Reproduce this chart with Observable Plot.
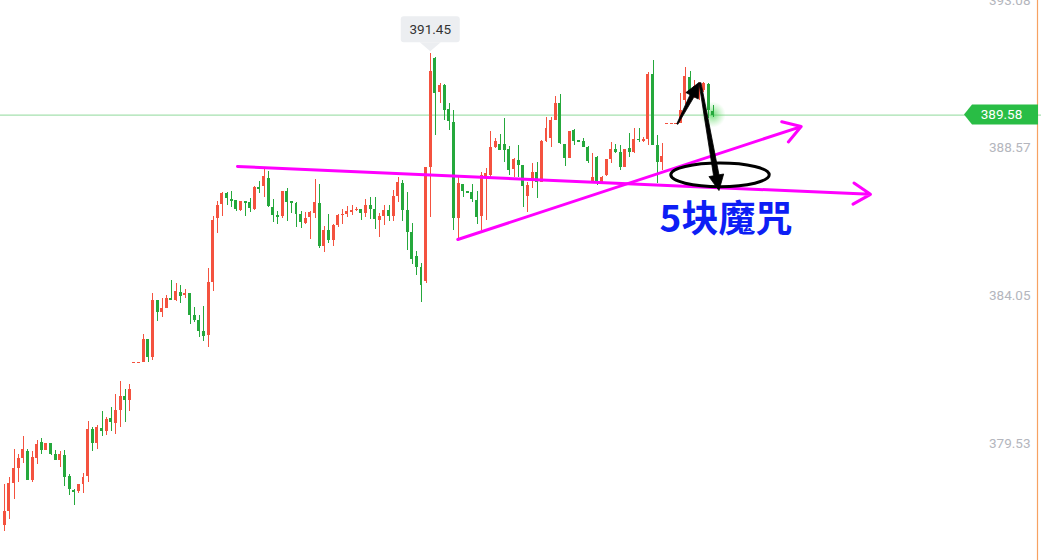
<!DOCTYPE html>
<html>
<head>
<meta charset="utf-8">
<script src="https://cdn.jsdelivr.net/npm/d3@7"></script>
<script src="https://cdn.jsdelivr.net/npm/@observablehq/plot@0.6"></script>
<style>
  html, body { margin: 0; padding: 0; background: #fff; overflow: hidden; }
  #chart svg { display: block; }
</style>
</head>
<body>
<div id="chart"></div>
<script>
// ---- Candle data (one entry per bar, left to right) ----
const opens = [
  377.05,377.47,378.33,378.79,379.09,379.31,378.42,379.09,379.58,379.34,
  379.55,379.22,379.03,379.19,378.55,378.11,378.08,378.30,378.55,379.98,
  379.55,380.01,379.92,380.31,380.16,380.56,380.99,380.86,382.02,382.02,
  382.02,382.73,382.18,383.92,383.55,383.67,383.98,383.92,384.16,384.07,
  384.13,383.46,383.31,382.97,382.85,384.47,386.42,386.85,387.19,387.00,
  386.97,386.67,386.94,386.91,386.70,387.37,387.40,387.64,386.76,386.51,
  386.48,387.25,386.94,386.88,386.54,386.27,386.45,386.58,386.88,385.57,
  386.06,385.75,386.21,386.51,386.54,386.61,386.67,386.70,386.58,386.82,
  386.70,386.36,386.48,386.67,386.48,387.09,387.49,386.67,385.99,385.26,
  384.93,384.50,387.98,391.31,390.27,390.48,389.75,389.35,386.42,387.46,
  387.25,387.22,386.97,386.48,387.67,387.74,388.59,388.68,388.68,388.53,
  387.92,388.19,388.04,387.09,387.61,387.83,387.52,388.77,388.87,389.42,
  389.93,388.68,388.25,389.11,388.80,388.77,388.59,387.55,388.28,387.52,
  387.74,388.22,388.53,388.44,387.98,388.56,388.44,388.84,388.77,388.84,
  390.82,388.65,388.13,389.32,389.32,389.32,389.32,390.03,390.73,390.15,
  390.09,390.33,390.51,389.69
];
const highs = [
  378.30,378.52,379.37,379.22,379.77,379.37,379.31,379.64,379.70,379.55,
  379.55,379.34,379.31,379.34,378.61,378.15,378.30,378.64,380.22,380.04,
  380.10,380.53,380.34,380.65,381.05,381.44,381.20,381.35,382.02,382.02,
  382.88,382.73,384.13,383.92,383.98,384.07,384.53,384.44,384.38,384.25,
  384.13,383.70,383.46,383.73,384.90,386.48,386.94,387.22,387.22,387.25,
  386.97,386.94,386.94,387.03,387.40,387.55,387.92,387.86,387.00,386.64,
  387.25,387.34,386.94,386.91,386.64,386.61,386.64,387.61,387.46,386.18,
  386.54,386.24,386.54,386.70,386.79,386.82,386.76,386.70,387.00,387.06,
  387.06,386.58,386.82,386.82,387.28,387.67,387.58,387.22,386.27,385.41,
  385.05,387.98,391.45,391.34,390.53,390.51,389.93,389.72,387.67,387.46,
  387.25,387.46,387.25,387.83,387.95,389.08,388.87,388.99,389.48,388.62,
  388.25,388.65,388.04,387.52,388.10,388.13,388.80,389.51,389.51,390.15,
  390.21,388.68,389.08,389.14,388.80,388.87,388.62,388.41,388.32,387.71,
  388.22,388.74,388.68,388.65,388.53,389.02,389.17,389.17,388.90,390.88,
  391.25,388.96,388.71,389.32,389.32,389.32,390.24,391.03,390.91,390.64,
  390.58,390.58,390.55,389.87
];
const lows = [
  376.86,377.23,377.84,378.36,378.94,378.42,378.36,378.91,379.22,379.34,
  379.19,379.03,378.82,378.24,377.96,377.66,378.02,378.02,378.36,379.31,
  379.37,379.77,379.80,379.92,379.83,380.04,380.19,380.53,382.02,382.02,
  382.02,382.02,382.09,383.28,383.40,383.67,383.92,383.89,383.83,383.98,
  383.19,383.25,382.79,382.67,382.48,384.19,385.96,386.48,386.82,386.76,
  386.64,386.64,386.48,386.61,386.67,387.19,387.06,386.76,386.30,386.24,
  386.42,386.33,386.58,386.15,386.12,386.24,385.78,386.42,385.51,385.38,
  385.66,385.57,386.15,386.24,386.45,386.51,386.64,386.36,386.45,386.39,
  386.09,385.84,386.21,386.33,386.33,386.91,386.33,385.45,385.02,384.68,
  383.86,384.44,386.45,388.96,389.93,389.42,389.11,386.06,385.78,387.06,
  387.22,386.91,386.24,386.06,386.36,387.67,388.56,388.50,388.13,387.74,
  387.67,387.67,386.76,386.61,387.34,387.03,387.52,388.74,388.59,389.42,
  388.68,388.01,388.25,388.65,388.77,388.59,388.10,387.52,387.43,387.49,
  387.71,388.10,388.41,387.89,387.98,388.28,388.41,388.74,388.74,388.65,
  388.65,387.49,387.89,389.32,389.32,389.32,389.32,389.90,390.15,390.09,
  390.03,390.27,389.48,389.51
];
const closes = [
  377.47,378.33,378.79,379.09,379.37,378.42,379.12,379.52,379.34,379.55,
  379.22,379.03,379.22,378.52,378.15,378.05,378.30,378.52,379.98,379.55,
  380.04,379.92,380.28,380.19,380.56,380.99,380.86,381.20,382.02,382.02,
  382.73,382.18,383.92,383.55,383.67,383.98,383.92,384.19,384.04,384.13,
  383.46,383.31,382.97,382.82,384.47,386.36,386.82,387.19,387.03,386.94,
  386.70,386.94,386.91,386.73,387.37,387.34,387.71,386.79,386.51,386.48,
  387.25,386.91,386.91,386.54,386.30,386.42,386.61,386.91,385.57,386.06,
  385.75,386.21,386.51,386.54,386.64,386.67,386.70,386.58,386.82,386.70,
  386.39,386.48,386.67,386.48,387.09,387.52,386.67,385.99,385.17,384.93,
  384.38,387.98,390.91,390.24,390.48,389.72,389.38,386.42,387.49,387.25,
  387.22,387.00,386.45,387.74,387.80,388.59,388.77,388.50,388.50,387.89,
  388.22,388.04,387.40,387.43,387.83,387.52,388.77,389.17,389.42,389.93,
  388.71,388.25,389.08,388.77,388.77,388.59,388.16,387.67,387.55,387.67,
  388.22,388.53,388.44,387.98,388.53,388.44,388.84,388.80,388.84,390.82,
  388.65,388.13,388.32,389.32,389.32,389.32,389.72,390.76,390.24,390.45,
  390.51,390.55,389.72,389.58
];

// ---- Axis / reference values ----
const priceTicks = [379.53, 384.05, 388.57, 393.08];
const lastPrice = 389.58;
const yDomain = [375.977, 393.08];
const xDomain = [-0.929, 223.909];

// ---- Hand-drawn annotations (in bar index / price units) ----
const trendLines = [
  {x1: 50.26, y1: 388.01, x2: 186.97, y2: 387.16},
  {x1: 97.84, y1: 385.78, x2: 172.00, y2: 389.23}
];
const pointerArrows = [
  {x1: 145.36, y1: 389.29, x2: 150.04, y2: 390.56},
  {x1: 150.26, y1: 390.55, x2: 154.36, y2: 387.26}
];
const rings = [{cx: 154.58, cy: 387.74, rx: 10.63, ry: 0.36}];
const notes = [{x: 155.77, y: 386.36, text: "5块魔咒"}];

// ---- Build table ----
const candles = opens.map((o, i) => ({i, open: o, high: highs[i], low: lows[i], close: closes[i]}));
const upBars = candles.filter(d => d.close >= d.open);
const downBars = candles.filter(d => d.close < d.open);
const peakIndex = d3.maxIndex(highs);
const lastIndex = candles.length - 1;

const UP = "#f4523f", DOWN = "#25a83c";
const W = 1041, H = 560;
const half = 0.32;

function candleMarks(data, color) {
  return [
    Plot.ruleX(data, {x: "i", y1: "low", y2: "high", stroke: color, strokeWidth: 1, shapeRendering: "crispEdges"}),
    Plot.rect(data, {x1: d => d.i - half, x2: d => d.i + half, y1: "open", y2: "close", fill: color, shapeRendering: "crispEdges"}),
    Plot.ruleY(data.filter(d => Math.abs(d.open - d.close) < 0.035), {y: "close", x1: d => d.i - half, x2: d => d.i + half, stroke: color, strokeWidth: 1, shapeRendering: "crispEdges"})
  ];
}

function glowMark(index, scales) {
  const g = d3.create("svg:g");
  const rg = g.append("defs").append("radialGradient").attr("id", "lastGlow");
  rg.append("stop").attr("offset", "0%").attr("stop-color", "#3fcf4a").attr("stop-opacity", 0.7);
  rg.append("stop").attr("offset", "55%").attr("stop-color", "#5ad85f").attr("stop-opacity", 0.3);
  rg.append("stop").attr("offset", "100%").attr("stop-color", "#7ae07c").attr("stop-opacity", 0);
  g.append("circle")
    .attr("cx", scales.x(lastIndex)).attr("cy", scales.y(lastPrice))
    .attr("r", 13).attr("fill", "url(#lastGlow)");
  return g.node();
}

function ringMark(index, scales) {
  const g = d3.create("svg:g");
  for (const r of rings) {
    const cx = scales.x(r.cx), cy = scales.y(r.cy);
    g.append("ellipse")
      .attr("cx", cx).attr("cy", cy)
      .attr("rx", Math.abs(scales.x(r.cx + r.rx) - cx))
      .attr("ry", Math.abs(scales.y(r.cy + r.ry) - cy))
      .attr("fill", "none").attr("stroke", "#000").attr("stroke-width", 3);
  }
  return g.node();
}

const arrowShapes = [
  {tail: 1.2, neck: 4.5, head: 15, headW: 14},
  {tail: 2, neck: 5.5, head: 15.5, headW: 15}
];
function pointerMark(index, scales) {
  const g = d3.create("svg:g");
  pointerArrows.forEach((a, k) => {
    const s = arrowShapes[k];
    const x1 = scales.x(a.x1), y1 = scales.y(a.y1), x2 = scales.x(a.x2), y2 = scales.y(a.y2);
    const len = Math.hypot(x2 - x1, y2 - y1);
    const ux = (x2 - x1) / len, uy = (y2 - y1) / len, nx = -uy, ny = ux;
    const bx = x2 - ux * s.head, by = y2 - uy * s.head;
    const pts = [
      [x1 + nx * s.tail / 2, y1 + ny * s.tail / 2],
      [bx + nx * s.neck / 2, by + ny * s.neck / 2],
      [bx + nx * s.headW / 2, by + ny * s.headW / 2],
      [x2, y2],
      [bx - nx * s.headW / 2, by - ny * s.headW / 2],
      [bx - nx * s.neck / 2, by - ny * s.neck / 2],
      [x1 - nx * s.tail / 2, y1 - ny * s.tail / 2]
    ];
    g.append("path").attr("d", "M" + pts.map(p => p.join(",")).join("L") + "Z")
      .attr("fill", "#000").attr("stroke", "#000").attr("stroke-width", 0.8).attr("stroke-linejoin", "round");
  });
  return g.node();
}

function edgeLineMark(index, scales, values, dims) {
  const x = dims.width - 3.5;
  return d3.create("svg:line")
    .attr("x1", x).attr("x2", x).attr("y1", 0).attr("y2", dims.height)
    .attr("stroke", "#f7a262").attr("stroke-width", 1.2).node();
}

function lastLabelMark(index, scales, values, dims) {
  const g = d3.create("svg:g");
  const y = scales.y(lastPrice);
  const right = dims.width - 3, left = right - 66, tip = left - 8;
  g.append("path")
    .attr("d", `M${tip},${y}L${left},${y - 10}L${right},${y - 10}L${right},${y + 10}L${left},${y + 10}Z`)
    .attr("fill", "#29bd45");
  g.append("text")
    .attr("x", (tip + right) / 2 + 0.5).attr("y", y)
    .attr("dy", "0.35em").attr("text-anchor", "middle")
    .attr("fill", "#fff").attr("font-size", 13.5)
    .attr("font-family", "Roboto, 'Noto Sans', sans-serif")
    .text(lastPrice.toFixed(2));
  return g.node();
}

function peakTipMark(index, scales) {
  const g = d3.create("svg:g");
  const x = scales.x(peakIndex), y = scales.y(highs[peakIndex]);
  const bottom = y - 11, top = y - 37;
  g.append("rect").attr("x", x - 29.5).attr("y", top).attr("width", 59).attr("height", bottom - top)
    .attr("rx", 3).attr("fill", "#eceef1");
  g.append("path").attr("d", `M${x - 10.5},${bottom}L${x + 10.5},${bottom}L${x},${y - 2}Z`).attr("fill", "#eceef1");
  g.append("text").attr("x", x).attr("y", (top + bottom) / 2).attr("dy", "0.35em")
    .attr("text-anchor", "middle").attr("fill", "#333").attr("font-size", 13.5)
    .attr("font-family", "Roboto, 'Noto Sans', sans-serif")
    .text(highs[peakIndex].toFixed(2));
  return g.node();
}

const chart = Plot.plot({
  width: W,
  height: H,
  marginTop: 0, marginRight: 0, marginBottom: 0, marginLeft: 0,
  x: {type: "linear", domain: xDomain, axis: null},
  y: {type: "linear", domain: yDomain, axis: null},
  style: {background: "#fff", fontFamily: "Roboto, 'Noto Sans', sans-serif"},
  marks: [
    Plot.ruleY([lastPrice], {y: d => d, stroke: "#8fd99b", strokeWidth: 1}),
    glowMark,
    ...candleMarks(upBars, UP),
    ...candleMarks(downBars, DOWN),
    Plot.arrow(trendLines, {x1: "x1", y1: "y1", x2: "x2", y2: "y2", stroke: "#ff00ff", strokeWidth: 3, headLength: 10, headAngle: 64}),
    ringMark,
    pointerMark,
    Plot.text(notes, {x: "x", y: "y", text: "text", fill: "#0d1ef5", fontSize: 37, fontWeight: "bold", fontFamily: "'Noto Sans CJK SC', sans-serif", textAnchor: "middle", lineAnchor: "middle"}),
    Plot.text(priceTicks, {y: d => d, text: d => d.toFixed(2), frameAnchor: "right", textAnchor: "end", dx: -11, fill: "#b4b6bd", fontSize: 13.5}),
    edgeLineMark,
    lastLabelMark,
    peakTipMark
  ]
});
document.getElementById("chart").appendChild(chart);
</script>
</body>
</html>
